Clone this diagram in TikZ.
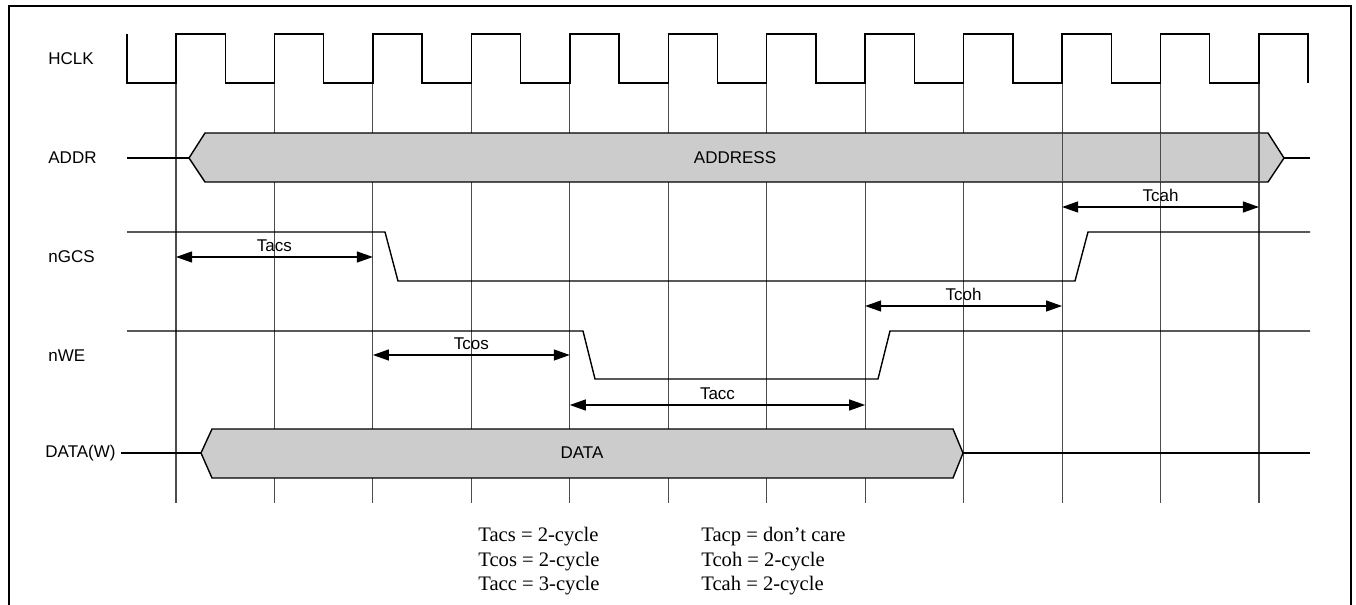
\documentclass[tikz,border=0pt]{standalone}
\usepackage{fontspec}
\setmainfont{Liberation Serif}
\setsansfont{Liberation Sans}
\usetikzlibrary{arrows.meta, positioning}
\tikzset{
	sig/.style={line width=0.7pt, line join=miter},
	gridline/.style={line width=0.55pt, black!70},
	busbox/.style={sig, fill=black!20},
	dimarr/.style={{Triangle[length=8pt,width=5.5pt]}-{Triangle[length=8pt,width=5.5pt]}, line width=0.6pt},
	siglabel/.style={font=\sffamily\fontsize{8.5}{10}\selectfont, inner sep=0pt},
	dimlabel/.style={font=\sffamily\fontsize{8.5}{10}\selectfont, above=1pt, inner sep=1.5pt},
	legendtxt/.style={font=\fontsize{10.3}{12}\selectfont, anchor=base west, inner sep=0pt},
}
\begin{document}
\begin{tikzpicture}[x=0.5pt, y=-0.5pt]
	\useasboundingbox (0,0) rectangle (1356,605);
	% frame
	\draw[line width=1.1pt] (9,605) -- (9,6) -- (1351,6) -- (1351,605);
	% clock edges
	\foreach \i in {0,...,11}
		\coordinate (g\i) at ({176+98.45*\i},0);
	% rows of the timing arrows
	\coordinate (rcah) at (0,207);
	\coordinate (racs) at (0,257);
	\coordinate (rcoh) at (0,306);
	\coordinate (rcos) at (0,355);
	\coordinate (racc) at (0,405);
	\foreach \i in {0,...,11}
		\draw[gridline] (g\i |- 0,83) -- (g\i |- 0,503);

	% signal names
	\node[siglabel, anchor=west] (hclk) at (48,59) {HCLK};
	\node[siglabel, anchor=west] (addr) at (48,158) {ADDR};
	\node[siglabel, anchor=west] (ngcs) at (48,257) {nGCS};
	\node[siglabel, anchor=west] (nwe) at (48,356) {nWE};
	\node[siglabel, anchor=east] (dataw) at (116,453) {DATA(W)};

	% HCLK
	\draw[sig] (127,34) -- (127,83)
		\foreach \i in {0,...,11} { -- ({176+98.45*\i},83) -- ({176+98.45*\i},34) -- ({225.2+98.45*\i},34) -- ({225.2+98.45*\i},83) };

	% ADDR bus
	\draw[sig] (127,158) -- (189,158);
	\draw[busbox] (189,158) -- (205,133) -- (1268,133) -- (1284,158) -- (1268,182) -- (205,182) -- cycle;
	\draw[sig] (1284,158) -- (1310,158);
	\foreach \i in {9,10,11}
		\draw[gridline] (g\i |- 0,133) -- (g\i |- 0,182);
	\node[siglabel] (addrtxt) at (735,158) {ADDRESS};

	% nGCS
	\draw[sig] (127,232) -- (385,232) -- (398,281) -- (1075,281) -- (1088,232) -- (1310,232);

	% nWE
	\draw[sig] (127,331) -- (583,331) -- (595,379) -- (878,379) -- (890,331) -- (1310,331);

	% DATA bus
	\draw[sig] (121,453) -- (201,453);
	\draw[busbox] (201,453) -- (212,429) -- (953,429) -- (963,453) -- (953,478) -- (212,478) -- cycle;
	\draw[sig] (963,453) -- (1310,453);
	\node[siglabel] (datatxt) at (582,453) {DATA};

	% timing arrows
	\draw[dimarr] (g0 |- racs) -- node[dimlabel] (tacs) {Tacs} (g2 |- racs);
	\draw[dimarr] (g2 |- rcos) -- node[dimlabel] (tcos) {Tcos} (g4 |- rcos);
	\draw[dimarr] (g4 |- racc) -- node[dimlabel] (tacc) {Tacc} (g7 |- racc);
	\draw[dimarr] (g7 |- rcoh) -- node[dimlabel] (tcoh) {Tcoh} (g9 |- rcoh);
	\draw[dimarr] (g9 |- rcah) -- node[dimlabel] (tcah) {Tcah} (g11 |- rcah);

	% legend
	\node[legendtxt] (lacs) at (478,541) {Tacs = 2-cycle};
	\node[legendtxt] (lcos) at (478,566) {Tcos = 2-cycle};
	\node[legendtxt] (lacc) at (478,590) {Tacc = 3-cycle};
	\node[legendtxt] (lacp) at (701,541) {Tacp = don’t care};
	\node[legendtxt] (lcoh) at (701,566) {Tcoh = 2-cycle};
	\node[legendtxt] (lcah) at (701,590) {Tcah = 2-cycle};
\end{tikzpicture}
\end{document}
